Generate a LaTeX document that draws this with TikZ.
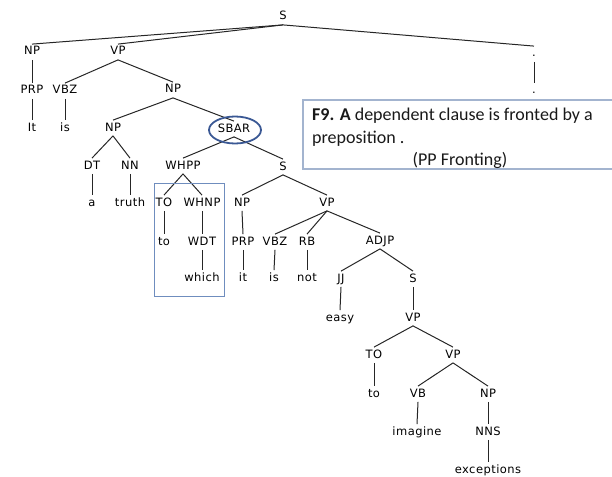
\documentclass[tikz,border=0pt]{standalone}
\usepackage{fontspec}
\setmainfont{DejaVu Sans}
\newfontfamily\treefont[LetterSpace=4]{DejaVu Sans}
\newfontfamily\notefont{Carlito}
\usetikzlibrary{shapes.geometric}
\definecolor{circblue}{HTML}{3A5894}
\definecolor{boxblue}{HTML}{6F8DBE}
\definecolor{noteblue}{HTML}{A3B4CF}
\begin{document}
\begin{tikzpicture}[x=1pt,y=-1pt,
  lab/.style={inner sep=2.2pt, text height=8.5pt, text depth=2.5pt, font=\treefont\fontsize{11.5}{13}\selectfont, text=black},
  edge/.style={line width=1pt, draw=black!85},
  notetxt/.style={inner sep=0pt, anchor=base west, font=\notefont\fontsize{18}{22}\selectfont, text=black!90}]
\useasboundingbox (0,0) rectangle (612,476);
% nodes
\node[lab] (S0) at (283,17) {S};
\node[lab] (NP1) at (32,52) {NP};
\node[lab] (VP1) at (118,52) {VP};
\node[lab] (D1) at (534,54) {.};
\node[lab] (D2) at (534,91) {.};
\node[lab] (PRP1) at (32,91) {PRP};
\node[lab] (It) at (32,128) {It};
\node[lab] (VBZ1) at (65,91) {VBZ};
\node[lab] (is1) at (65,128) {is};
\node[lab] (NP2) at (173,90) {NP};
\node[lab] (NP3) at (113,128) {NP};
\node[lab] (SBAR) at (234,129) {SBAR};
\node[lab] (DT) at (92,166) {DT};
\node[lab] (NN) at (130,166) {NN};
\node[lab] (a) at (92,203) {a};
\node[lab] (truth) at (130,203) {truth};
\node[lab] (WHPP) at (183,166) {WHPP};
\node[lab] (S2) at (283,167) {S};
\node[lab] (TO1) at (164,203) {TO};
\node[lab] (WHNP) at (202,203) {WHNP};
\node[lab] (to1) at (164,242) {to};
\node[lab] (WDT) at (202,242) {WDT};
\node[lab] (which) at (202,278) {which};
\node[lab] (NP4) at (242,203) {NP};
\node[lab] (VP2) at (327,203) {VP};
\node[lab] (PRP2) at (243,242) {PRP};
\node[lab] (it2) at (243,278) {it};
\node[lab] (VBZ2) at (275,242) {VBZ};
\node[lab] (is2) at (274,278) {is};
\node[lab] (RB) at (307,242) {RB};
\node[lab] (not) at (307,278) {not};
\node[lab] (ADJP) at (380,241) {ADJP};
\node[lab] (JJ) at (341,279) {JJ};
\node[lab] (easy) at (340,318) {easy};
\node[lab] (S3) at (413,279) {S};
\node[lab] (VP3) at (413,318) {VP};
\node[lab] (TO2) at (374,355) {TO};
\node[lab] (to2) at (374,394) {to};
\node[lab] (VP4) at (453,355) {VP};
\node[lab] (VB) at (418,394) {VB};
\node[lab] (imagine) at (417,432) {imagine};
\node[lab] (NP5) at (488,394) {NP};
\node[lab] (NNS) at (488,432) {NNS};
\node[lab] (exc) at (488,470) {exceptions};
% edges
\foreach \p/\c in {S0/NP1,S0/VP1,S0/D1,D1/D2,NP1/PRP1,PRP1/It,VP1/VBZ1,VBZ1/is1,VP1/NP2,
  NP2/NP3,NP2/SBAR,NP3/DT,NP3/NN,DT/a,NN/truth,SBAR/WHPP,SBAR/S2,WHPP/TO1,WHPP/WHNP,
  TO1/to1,WHNP/WDT,WDT/which,S2/NP4,S2/VP2,NP4/PRP2,PRP2/it2,VP2/VBZ2,VP2/RB,VP2/ADJP,
  VBZ2/is2,RB/not,ADJP/JJ,ADJP/S3,JJ/easy,S3/VP3,VP3/TO2,VP3/VP4,TO2/to2,VP4/VB,VP4/NP5,
  VB/imagine,NP5/NNS,NNS/exc}
  \draw[edge] (\p.south) -- (\c.north);
% highlights
\node[draw=circblue, line width=1.8pt, ellipse, minimum width=52pt, minimum height=27pt, inner sep=0pt] (circ) at (235,130) {};
\node[draw=boxblue, line width=0.9pt, rectangle, minimum width=70pt, minimum height=113pt, inner sep=0pt] (hbox) at (189,239.5) {};
% note box
\coordinate (nTR) at (613,100);
\coordinate (nTL) at (303,100);
\coordinate (nBL) at (303,169);
\coordinate (nBR) at (613,169);
\draw[draw=noteblue, line width=1.1pt] (nTR) -- (nTL) -- (nBL) -- (nBR);
\node[notetxt] (n1) at (312,121) {\textbf{F9. A} dependent clause is fronted by a};
\node[notetxt] (n2) at (312,143) {preposition .};
\node[notetxt, anchor=base] (n3) at (460,165) {(PP Fronting)};
\end{tikzpicture}
\end{document}
